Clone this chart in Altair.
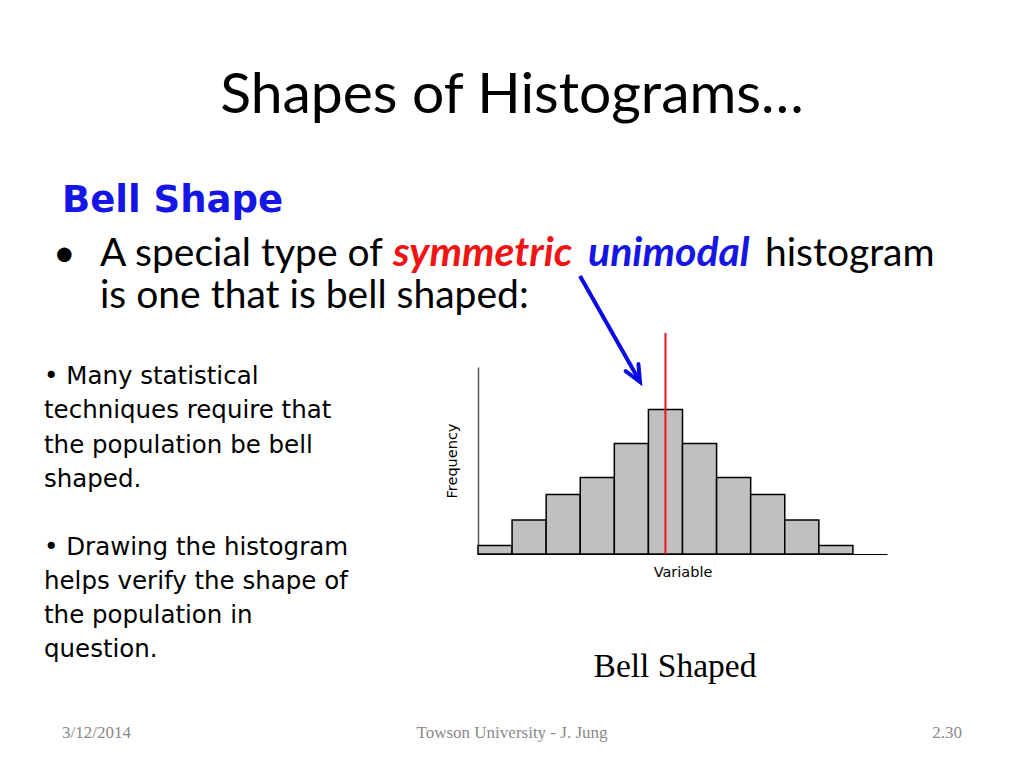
import altair as alt
import pandas as pd

# ---- histogram data ----
bin_start = [0, 1, 2, 3, 4, 5, 6, 7, 8, 9, 10]
frequency = [1, 4, 7, 9, 13, 17, 13, 9, 7, 4, 1]
center_value = [5.5]
center_top = [26]

# ---- slide texts ----
title_text = ["Shapes of Histograms…"]
heading_text = ["Bell Shape"]
bullet_plain = ["A special type of ", "histogram", "is one that is bell shaped:"]
bullet_red = ["symmetric"]
bullet_blue = ["unimodal"]
side_lines = ["• Many statistical", "techniques require that", "the population be bell", "shaped.",
              "• Drawing the histogram", "helps verify the shape of", "the population in", "question."]
caption_text = ["Bell Shaped"]
footer_left = ["3/12/2014"]
footer_mid = ["Towson University - J. Jung"]
footer_right = ["2.30"]

bars = pd.DataFrame({"lo": bin_start, "hi": [b + 1 for b in bin_start], "freq": frequency})
mean_df = pd.DataFrame({"x": center_value, "y0": [0], "y1": center_top})

W, H = 1000, 740
xscale = alt.Scale(domain=[0, 12], range=[470, 879], nice=False, zero=False)
yscale = alt.Scale(domain=[0, 22], range=[546, 359], nice=False, zero=False)

bar_layer = alt.Chart(bars).mark_bar(
    fill="#C0C0C0", stroke="black", strokeWidth=1.5
).encode(
    x=alt.X("lo:Q", scale=xscale,
            axis=alt.Axis(title="Variable", labels=False, ticks=False, grid=False,
                          domainColor="black", domainWidth=1.2, offset=-(H - 546),
                          titleFont="DejaVu Sans", titleFontSize=14.5, titleFontWeight="normal",
                          titleColor="black", titlePadding=11)),
    x2="hi:Q",
    y=alt.Y("freq:Q", scale=yscale,
            axis=alt.Axis(title="Frequency", labels=False, ticks=False, grid=False,
                          domainColor="#555555", domainWidth=1.5, offset=-470,
                          titleFont="DejaVu Sans", titleFontSize=14.5, titleFontWeight="normal",
                          titleColor="black", titlePadding=19)),
    y2=alt.datum(0),
)

mean_layer = alt.Chart(mean_df).mark_rule(color="#E8141C", strokeWidth=2).encode(
    x="x:Q", y="y0:Q", y2="y1:Q"
)


def text_layer(items, xs, ys, **kw):
    df = pd.DataFrame({"t": items, "px": xs, "py": ys})
    return alt.Chart(df).mark_text(baseline="alphabetic", **kw).encode(
        x=alt.X("px:Q", scale=None, axis=None),
        y=alt.Y("py:Q", scale=None, axis=None),
        text="t:N",
    )


layers = [
    bar_layer,
    mean_layer,
    text_layer(title_text, [504], [105], font="Lato", fontSize=57, align="center", color="black"),
    text_layer(heading_text, [54], [204], font="DejaVu Sans", fontSize=37, fontWeight="bold",
               align="left", color="#1515E6"),
    text_layer(["•"], [45], [258], font="Lato", fontSize=39, align="left", color="black"),
    text_layer(bullet_plain, [92, 757, 92], [258, 258, 300], font="Lato", fontSize=39,
               align="left", color="black"),
    text_layer(bullet_red, [385], [258], font="Lato", fontSize=41, fontWeight="bold",
               fontStyle="italic", align="left", color="#F01414"),
    text_layer(bullet_blue, [580], [258], font="Lato", fontSize=41, fontWeight="bold",
               fontStyle="italic", align="left", color="#1515E6"),
    text_layer(side_lines, [36] * 8, [376, 410, 445, 479, 547, 581, 615, 649],
               font="DejaVu Sans", fontSize=24.5, align="left", color="black"),
    text_layer(caption_text, [667], [669], font="Liberation Serif", fontSize=33.5,
               align="center", color="black"),
    text_layer(footer_left, [54], [730], font="Liberation Serif", fontSize=17,
               align="left", color="#898989"),
    text_layer(footer_mid, [504], [730], font="Liberation Serif", fontSize=17,
               align="center", color="#898989"),
    text_layer(footer_right, [954], [730], font="Liberation Serif", fontSize=17,
               align="right", color="#898989"),
]

arrow_df = pd.DataFrame({"a": [1]})
arrow_line = alt.Chart(arrow_df).mark_rule(color="#0A0AE6", strokeWidth=4).encode(
    x=alt.value(572), y=alt.value(268), x2=alt.value(631), y2=alt.value(372)
)
arrow_head = alt.Chart(arrow_df).mark_point(
    shape="M -0.407 -0.914 L 0 0 L 0.407 -0.914", filled=False, color="#0A0AE6",
    strokeWidth=4, size=1296, angle=331, opacity=1, strokeCap="round", strokeJoin="miter"
).encode(x=alt.value(632), y=alt.value(374))

chart = alt.layer(*layers, arrow_line, arrow_head).properties(
    width=W, height=H, padding=0,
    autosize=alt.AutoSizeParams(type="none"),
    background="white",
).configure_view(stroke=None)

chart.save("out.html", embed_options={"renderer": "svg", "actions": False})
